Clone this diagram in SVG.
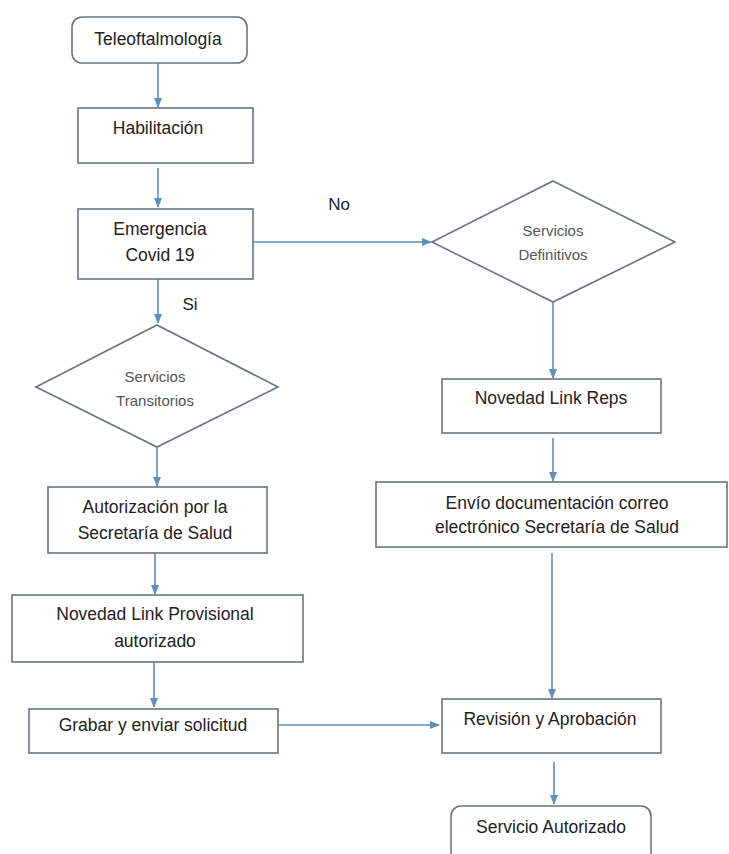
<svg xmlns="http://www.w3.org/2000/svg" width="729" height="854" viewBox="0 0 729 854">
<defs>
<marker id="arr" viewBox="0 0 10 10" refX="9" refY="5" markerWidth="10" markerHeight="10" markerUnits="userSpaceOnUse" orient="auto">
<path d="M0,1 L10,5 L0,9 z" fill="#5f8fbf"/>
</marker>
</defs>
<style>
.box{fill:#fff;stroke:#6a7480;stroke-width:1.6}
.t{font-family:"Liberation Sans",Arial,sans-serif;font-size:17.5px;fill:#222;text-anchor:middle}
.d{font-family:"Liberation Sans",Arial,sans-serif;font-size:15px;fill:#555;text-anchor:middle}
.c{stroke:#5f8fbf;stroke-width:1.6;fill:none;marker-end:url(#arr)}
.lbl{font-family:"Liberation Sans",Arial,sans-serif;font-size:17px;fill:#222;text-anchor:middle}
</style>
<rect width="729" height="854" fill="#fff"/>
<g id="connectors">
<line class="c" x1="158" y1="63" x2="158" y2="107"/>
<line class="c" x1="158" y1="168" x2="158" y2="207"/>
<line class="c" x1="253" y1="242" x2="431" y2="242"/>
<line class="c" x1="158" y1="279" x2="158" y2="323"/>
<line class="c" x1="157" y1="447" x2="157" y2="486"/>
<line class="c" x1="155" y1="553" x2="155" y2="594"/>
<line class="c" x1="154" y1="662" x2="154" y2="707"/>
<line class="c" x1="278" y1="725" x2="439" y2="725"/>
<line class="c" x1="553" y1="302" x2="553" y2="378"/>
<line class="c" x1="553" y1="438" x2="553" y2="481"/>
<line class="c" x1="552" y1="553" x2="552" y2="698"/>
<line class="c" x1="554" y1="762" x2="554" y2="804"/>
<text class="lbl" x="339" y="210">No</text>
<text class="lbl" x="190" y="310">Si</text>
</g>
<g id="teleoftalmologia">
<rect class="box" x="72" y="17" width="175" height="46" rx="10"/>
<text class="t" x="158" y="45">Teleoftalmología</text>
</g>
<g id="habilitacion">
<rect class="box" x="78" y="108" width="175" height="55"/>
<text class="t" x="158" y="134">Habilitación</text>
</g>
<g id="emergencia">
<rect class="box" x="78" y="209" width="175" height="70"/>
<text class="t" x="160" y="235">Emergencia</text>
<text class="t" x="160" y="261">Covid 19</text>
</g>
<g id="definitivos">
<polygon class="box" points="553,181 675,242 553,302 432,242"/>
<text class="d" x="553" y="236">Servicios</text>
<text class="d" x="553" y="260">Definitivos</text>
</g>
<g id="transitorios">
<polygon class="box" points="157,325 278,387 157,447 36,387"/>
<text class="d" x="155" y="382">Servicios</text>
<text class="d" x="155" y="406">Transitorios</text>
</g>
<g id="autorizacion">
<rect class="box" x="48" y="487" width="219" height="66"/>
<text class="t" x="155" y="513">Autorización por la</text>
<text class="t" x="155" y="539">Secretaría de Salud</text>
</g>
<g id="novedad-provisional">
<rect class="box" x="12" y="595" width="291" height="67"/>
<text class="t" x="155" y="620">Novedad Link Provisional</text>
<text class="t" x="155" y="647">autorizado</text>
</g>
<g id="grabar">
<rect class="box" x="29" y="709" width="249" height="44"/>
<text class="t" x="153" y="731">Grabar y enviar solicitud</text>
</g>
<g id="novedad-reps">
<rect class="box" x="442" y="379" width="219" height="54"/>
<text class="t" x="551" y="404">Novedad Link Reps</text>
</g>
<g id="envio">
<rect class="box" x="376" y="482" width="351" height="65"/>
<text class="t" x="557" y="509">Envío documentación correo</text>
<text class="t" x="557" y="533">electrónico Secretaría de Salud</text>
</g>
<g id="revision">
<rect class="box" x="442" y="699" width="219" height="54"/>
<text class="t" x="550" y="725">Revisión y Aprobación</text>
</g>
<g id="servicio-autorizado">
<rect class="box" x="451" y="806" width="200" height="70" rx="10"/>
<text class="t" x="551" y="833">Servicio Autorizado</text>
</g>
</svg>
